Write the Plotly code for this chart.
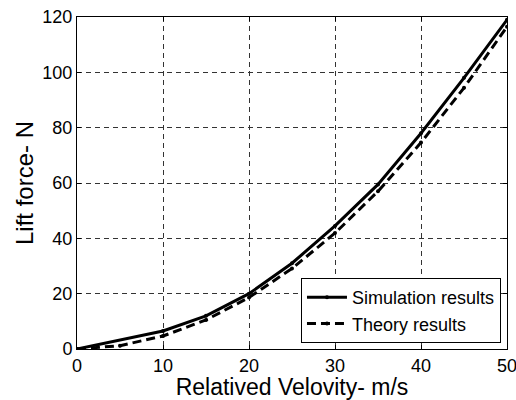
import plotly.graph_objects as go

sim_v = [0, 10, 15, 20, 25, 30, 35, 40, 45, 50]
sim_f = [0, 6.5, 12, 20, 31, 44.5, 59.5, 78, 98, 119]
th_v = [0, 5, 10, 15, 20, 25, 30, 35, 40, 45, 50]
th_f = [0, 1.2, 4.7, 10.5, 18.6, 29.1, 41.9, 57.0, 74.6, 94.4, 116.5]

x_ticks = [0, 10, 20, 30, 40, 50]
y_ticks = [0, 20, 40, 60, 80, 100, 120]

FONT = "Liberation Sans, Arial, Helvetica"

fig = go.Figure()
fig.add_trace(go.Scatter(x=sim_v, y=sim_f, mode="lines+markers", name="Simulation results",
                         line=dict(color="black", width=3), marker=dict(size=4, color="black")))
fig.add_trace(go.Scatter(x=th_v, y=th_f, mode="lines+markers", name="Theory results",
                         line=dict(color="black", width=3, dash="9px,5px"), marker=dict(size=4, color="black")))

axis_common = dict(showline=True, linecolor="black", linewidth=1, mirror="ticks",
                   ticks="inside", ticklen=4, tickcolor="black",
                   showgrid=True, gridcolor="#333", gridwidth=0.8, griddash="5px,4px",
                   zeroline=False, automargin=False, ticklabeloverflow="allow",
                   tickfont=dict(family=FONT, size=18, color="black"))

fig.update_xaxes(range=[0, 50], tickvals=x_ticks,
                 title=dict(text="Relatived Velovity- m/s", font=dict(family=FONT, size=23, color="black"), standoff=4),
                 **axis_common)
fig.update_yaxes(range=[0, 120], tickvals=y_ticks,
                 title=dict(text="Lift force- N", font=dict(family=FONT, size=24, color="black"), standoff=1),
                 **axis_common)

fig.update_layout(width=516, height=400, plot_bgcolor="white", paper_bgcolor="white",
                  margin=dict(l=77, r=9, t=17, b=51),
                  legend=dict(x=0.986, y=0.018, xanchor="right", yanchor="bottom",
                              bgcolor="white", bordercolor="black", borderwidth=1,
                              font=dict(family=FONT, size=18, color="black"),
                              tracegroupgap=0, itemwidth=40),
                  showlegend=True)

fig.write_html("out.html", config={"displayModeBar": False},
               post_script="document.body.style.margin='0';")
